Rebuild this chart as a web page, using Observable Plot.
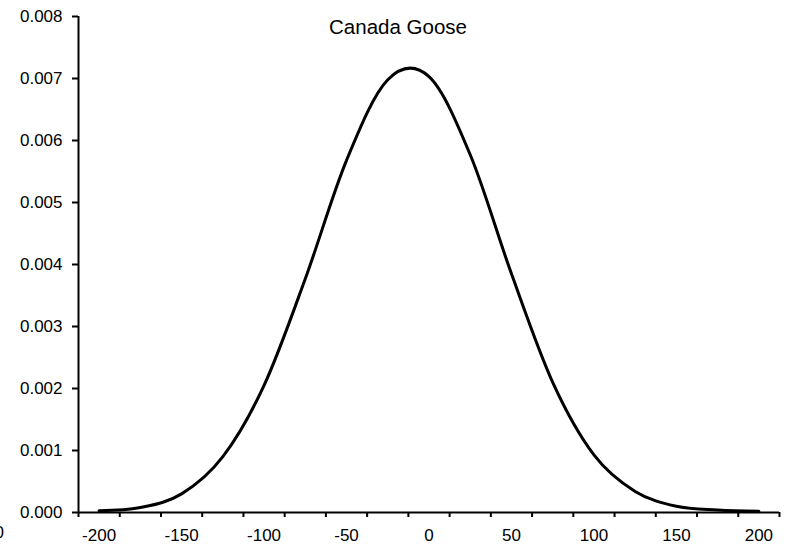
<!DOCTYPE html>
<html>
<head>
<meta charset="utf-8">
<script src="https://cdn.jsdelivr.net/npm/d3@7"></script>
<script src="https://cdn.jsdelivr.net/npm/@observablehq/plot@0.6"></script>
<style>
  html, body { margin: 0; padding: 0; background: #fff; }
  #chart svg { display: block; }
</style>
</head>
<body>
<div id="chart"></div>
<script>
// Category positions (Excel category axis, smoothed line)
const xValues = [-200, -175, -150, -125, -100, -75, -50, -25, 0, 25, 50, 75, 100, 125, 150, 175, 200];
// Density values
const density = [0.00003, 0.00008, 0.0003, 0.0009, 0.00205, 0.00377, 0.00568, 0.00698, 0.00703, 0.00577, 0.00385, 0.0021, 0.00093, 0.00034, 0.0001, 0.00004, 0.00002];
// Labelled ticks on the x axis
const xTickLabels = [-200, -150, -100, -50, 0, 50, 100, 150, 200];
// Y axis ticks
const yTicks = [0, 0.001, 0.002, 0.003, 0.004, 0.005, 0.006, 0.007, 0.008];
const title = "Canada Goose";

const step = xValues[1] - xValues[0];
// tick marks sit on the boundaries between categories
const boundaries = xValues.map(v => v - step / 2).concat([xValues[xValues.length - 1] + step / 2]);
const xMin = boundaries[0], xMax = boundaries[boundaries.length - 1];

const data = xValues.map((x, i) => ({x, y: density[i]}));

const font = "'Liberation Sans', Arial, sans-serif";

const chart = Plot.plot({
  width: 785,
  height: 546,
  marginLeft: 78,
  marginRight: 6,
  marginTop: 16,
  marginBottom: 34,
  style: {fontFamily: font, fontSize: "17px", color: "#000", background: "#fff"},
  x: {domain: [xMin, xMax]},
  y: {domain: [0, 0.008]},
  marks: [
    Plot.axisY({ticks: yTicks, tickFormat: d3.format(".3f"), tickSize: 6, tickPadding: 10, strokeWidth: 2, label: null, fontSize: 17}),
    Plot.axisX({ticks: boundaries, tickFormat: () => "", tickSize: 5, strokeWidth: 2, label: null}),
    Plot.axisX({ticks: xTickLabels, tickFormat: d => String(d), tickSize: 0, tickPadding: 16, label: null, fontSize: 17}),
    Plot.ruleX([xMin], {stroke: "#000", strokeWidth: 2}),
    Plot.ruleY([0], {stroke: "#000", strokeWidth: 2}),
    Plot.line(data, {x: "x", y: "y", curve: "cardinal", tension: 0, stroke: "#000", strokeWidth: 3}),
    Plot.text([title], {frameAnchor: "top", dx: -31, dy: 11, fontSize: 20.5, lineAnchor: "middle", fill: "#000"}),
    Plot.text(["0"], {frameAnchor: "bottom-left", dx: -84, dy: 20, fontSize: 17, lineAnchor: "middle", fill: "#000"})
  ]
});
document.getElementById("chart").appendChild(chart);
</script>
</body>
</html>
